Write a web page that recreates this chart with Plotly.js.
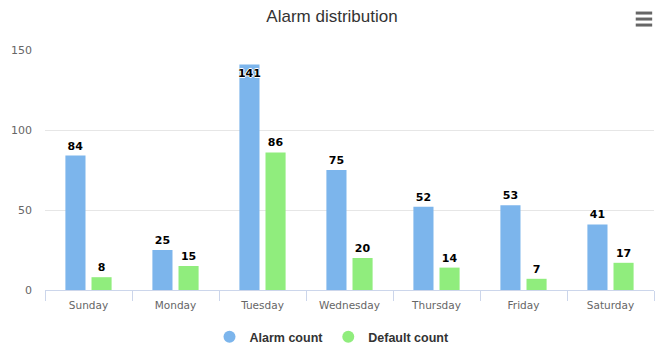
<!DOCTYPE html>
<html><head><meta charset="utf-8">
<script src="https://cdn.plot.ly/plotly-3.0.1.min.js"></script>
<style>body{margin:0;background:#fff}#c{width:664px;height:356px}</style>
</head><body><div id="c"></div>
<script>
const categories = ['Sunday','Monday','Tuesday','Wednesday','Thursday','Friday','Saturday'];
const alarmCount = [84, 25, 141, 75, 52, 53, 41];
const defaultCount = [8, 15, 86, 20, 14, 7, 17];
const seriesNames = ['Alarm count','Default count'];
const colors = ['#7cb5ec','#90ed7d'];

const labelFont = {family:'DejaVu Sans, Verdana, sans-serif', size:11, color:'#000', weight:'bold',
  shadow:'1px 0 0 #fff, -1px 0 0 #fff, 0 1px 0 #fff, 0 -1px 0 #fff'};
function pos(vals){ return vals.map(v => v > 135 ? 'inside' : 'outside'); }

const traces = [
  {type:'bar', x:categories, y:alarmCount, name:seriesNames[0], marker:{color:colors[0]},
   text:alarmCount.map(String), textposition:pos(alarmCount), insidetextanchor:'end',
   textangle:0, constraintext:'none',
   textfont:labelFont, insidetextfont:labelFont, outsidetextfont:labelFont, cliponaxis:false,
   showlegend:false, hoverinfo:'skip'},
  {type:'bar', x:categories, y:defaultCount, name:seriesNames[1], marker:{color:colors[1]},
   text:defaultCount.map(String), textposition:pos(defaultCount), insidetextanchor:'end',
   textangle:0, constraintext:'none',
   textfont:labelFont, insidetextfont:labelFont, outsidetextfont:labelFont, cliponaxis:false,
   showlegend:false, hoverinfo:'skip'},
  {type:'scatter', mode:'markers', x:[null], y:[null], name:seriesNames[0],
   marker:{color:colors[0], size:12, symbol:'circle'}, showlegend:true},
  {type:'scatter', mode:'markers', x:[null], y:[null], name:seriesNames[1],
   marker:{color:colors[1], size:12, symbol:'circle'}, showlegend:true}
];

const layout = {
  width:664, height:356,
  margin:{l:45, r:10, t:50, b:66},
  paper_bgcolor:'#fff', plot_bgcolor:'#fff',
  title:{text:'Alarm distribution', x:0.5, xanchor:'center', y:0.955, yanchor:'middle',
    font:{family:'Liberation Sans, sans-serif', size:17, color:'#333'}},
  barmode:'group', bargap:0.40, bargroupgap:0.23,
  xaxis:{type:'category', showgrid:false, showline:true, linecolor:'#ccd6eb', linewidth:1,
    ticks:'outside', tickson:'boundaries', ticklen:10, tickcolor:'#ccd6eb',
    tickfont:{family:'DejaVu Sans, Verdana, sans-serif', size:10.5, color:'#666'},
    ticklabelstandoff:5, zeroline:false, fixedrange:true, automargin:false},
  yaxis:{range:[0,150], tickvals:[0,50,100,150], showgrid:true, gridcolor:'#e6e6e6',
    zeroline:false, showline:false, ticks:'', ticklabelstandoff:12, automargin:false,
    tickfont:{family:'DejaVu Sans, Verdana, sans-serif', size:11, color:'#666'}, fixedrange:true},
  legend:{orientation:'h', x:0.5, xanchor:'center', xref:'container', yref:'container',
    y:0.053, yanchor:'middle',
    font:{family:'Liberation Sans, Arial, sans-serif', size:12.5, color:'#333', weight:'bold'},
    itemwidth:30},
  shapes:[
    {type:'line', xref:'paper', yref:'paper', x0:0.970, x1:0.997, y0:1.154, y1:1.154, line:{color:'#666', width:3}},
    {type:'line', xref:'paper', yref:'paper', x0:0.970, x1:0.997, y0:1.129, y1:1.129, line:{color:'#666', width:3}},
    {type:'line', xref:'paper', yref:'paper', x0:0.970, x1:0.997, y0:1.104, y1:1.104, line:{color:'#666', width:3}}
  ]
};
Plotly.newPlot('c', traces, layout, {displayModeBar:false, staticPlot:true});
</script></body></html>
